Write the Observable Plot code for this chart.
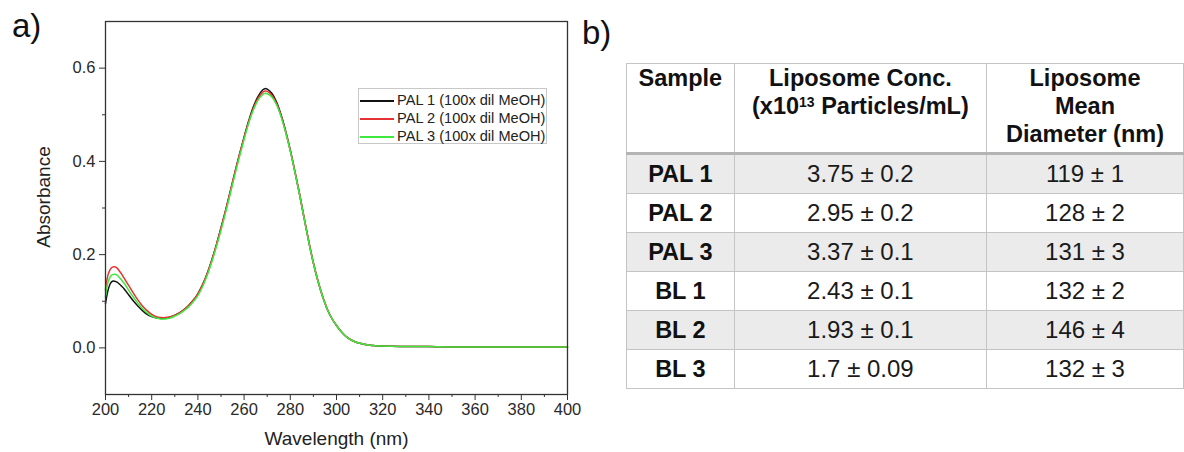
<!DOCTYPE html>
<html>
<head>
<meta charset="utf-8">
<script src="https://cdn.jsdelivr.net/npm/d3@7"></script>
<script src="https://cdn.jsdelivr.net/npm/@observablehq/plot@0.6"></script>
<style>
  html, body { margin: 0; padding: 0; background: #fff; }
  body { width: 1184px; height: 452px; overflow: hidden; position: relative; font-family: "Liberation Sans", Arial, sans-serif; }
  #chart { position: absolute; left: 0; top: 0; }
  #chart svg g[aria-label$="tick label"], #chart svg g[aria-label$="tick label"] text { font-size: 16.5px; }
  .panel { position: absolute; font-size: 33px; line-height: 33px; color: #111; }
  #legend { position: absolute; left: 358px; top: 88px; width: 189px; height: 56px; box-sizing: border-box;
            border: 1px solid #c8c8c8; background: #fff; font-size: 14.6px; color: #222; padding-top: 2px; }
  #legend .row { height: 18px; line-height: 18px; white-space: nowrap; }
  #legend .sw { display: inline-block; width: 34px; height: 0; border-top: 2px solid; vertical-align: middle; margin: 0 3px 0 1px; }
  #tbl { position: absolute; left: 626px; top: 63px; border-collapse: collapse; table-layout: fixed; font-size: 24px; color: #1a1a1a; }
  #tbl th, #tbl td { border: 1.5px solid #c4c4c4; text-align: center; padding: 0; }
  #tbl th { vertical-align: top; font-weight: bold; font-size: 23.5px; line-height: 28px; height: 88px; color: #111; }
  #tbl thead tr { border-bottom: 3px solid #b4b4b4; }
  #tbl td { height: 38px; }
  #tbl td.s { font-weight: bold; font-size: 23.5px; color: #111; }
  #tbl tr.alt td { background: #ebebeb; }
  #tbl sup { font-size: 14px; vertical-align: 7px; line-height: 0; }
</style>
</head>
<body>
<div id="chart"></div>
<div class="panel" style="left:12px; top:9px;">a)</div>
<div class="panel" style="left:582px; top:16px;">b)</div>
<div id="legend"></div>
<table id="tbl"></table>
<script>
// ---------- Panel a) UV-Vis spectra ----------
const seriesNames = ["PAL 1 (100x dil MeOH)", "PAL 2 (100x dil MeOH)", "PAL 3 (100x dil MeOH)"];
const seriesColors = ["#111111", "#e53333", "#3ee83e"];

const wavelength = [200,201,202,203,204,205,206,207,208,210,212,214,216,218,220,222,224,226,228,230,
  232,234,236,238,240,242,244,246,248,250,252,254,256,258,260,262,264,266,268,269,
  270,272,274,276,278,280,282,284,286,288,290,292,294,296,298,300,302,304,306,308,
  310,312,314,316,318,320,330,340,350,360,370,380,390,400];

const pal1 = [0.095,0.122,0.137,0.143,0.143,0.141,0.137,0.132,0.127,0.114,0.101,0.090,0.080,0.072,0.067,0.064,0.063,0.064,0.066,0.070,
  0.075,0.082,0.091,0.102,0.116,0.135,0.159,0.188,0.221,0.257,0.295,0.335,0.376,0.415,0.452,0.487,0.517,0.539,0.553,0.556,
  0.555,0.546,0.528,0.500,0.465,0.424,0.378,0.330,0.278,0.228,0.182,0.143,0.110,0.083,0.063,0.048,0.035,0.025,0.018,0.013,
  0.010,0.008,0.006,0.005,0.004,0.004,0.003,0.003,0.002,0.002,0.002,0.002,0.002,0.002];

const pal2 = [0.125,0.155,0.168,0.173,0.174,0.171,0.165,0.158,0.150,0.134,0.118,0.103,0.090,0.080,0.072,0.067,0.065,0.065,0.067,0.070,
  0.075,0.082,0.091,0.102,0.116,0.135,0.159,0.188,0.221,0.257,0.295,0.335,0.376,0.415,0.451,0.485,0.514,0.535,0.548,0.551,
  0.550,0.542,0.525,0.498,0.463,0.423,0.378,0.330,0.278,0.228,0.182,0.143,0.110,0.083,0.063,0.048,0.035,0.025,0.018,0.013,
  0.010,0.008,0.006,0.005,0.004,0.004,0.003,0.003,0.002,0.002,0.002,0.002,0.002,0.002];

const pal3 = [0.110,0.139,0.152,0.157,0.158,0.156,0.151,0.145,0.139,0.124,0.109,0.096,0.084,0.075,0.068,0.064,0.062,0.062,0.064,0.068,
  0.073,0.080,0.088,0.099,0.112,0.131,0.155,0.184,0.217,0.252,0.290,0.330,0.371,0.410,0.447,0.482,0.510,0.531,0.543,0.546,
  0.545,0.538,0.522,0.496,0.462,0.422,0.377,0.329,0.277,0.227,0.182,0.143,0.110,0.083,0.063,0.048,0.035,0.025,0.018,0.013,
  0.010,0.008,0.006,0.005,0.004,0.004,0.003,0.003,0.002,0.002,0.002,0.002,0.002,0.002];

const xMajor = [200,220,240,260,280,300,320,340,360,380,400];
const xMinor = [210,230,250,270,290,310,330,350,370,390];
const yMajor = [0.0,0.2,0.4,0.6];
const yMinor = [0.1,0.3,0.5];
const xLabel = "Wavelength (nm)";
const yLabel = "Absorbance";

// ---------- Panel b) table ----------
const tableHeaders = ["Sample", "Liposome Conc.<br>(x10<sup>13</sup> Particles/mL)", "Liposome<br>Mean<br>Diameter (nm)"];
const samples = ["PAL 1", "PAL 2", "PAL 3", "BL 1", "BL 2", "BL 3"];
const concValues = ["3.75", "2.95", "3.37", "2.43", "1.93", "1.7"];
const concErrors = ["0.2", "0.2", "0.1", "0.1", "0.1", "0.09"];
const diamValues = ["119", "128", "131", "132", "146", "132"];
const diamErrors = ["1", "2", "3", "2", "4", "3"];

// build long data
const spectra = [];
[pal1, pal2, pal3].forEach((arr, k) => {
  wavelength.forEach((w, i) => spectra.push({wavelength: w, absorbance: arr[i], series: seriesNames[k]}));
});

const chart = Plot.plot({
  width: 580,
  height: 452,
  marginLeft: 105,
  marginRight: 13,
  marginTop: 21,
  marginBottom: 58,
  style: {fontFamily: "'Liberation Sans', Arial, sans-serif", fontSize: "16px", color: "#222", background: "transparent", overflow: "visible"},
  x: {domain: [200, 400]},
  y: {domain: [-0.1, 0.7]},
  color: {domain: seriesNames, range: seriesColors},
  marks: [
    Plot.axisX({ticks: xMajor, tickSize: 6, tickPadding: 3, tickFormat: "d", label: null, stroke: "#333", fill: "#2a2a2a"}),
    Plot.axisX({ticks: xMinor, tickSize: 3, tickFormat: () => "", label: null, stroke: "#333"}),
    Plot.axisY({ticks: yMajor, tickSize: 6, tickPadding: 4, tickFormat: ".1f", label: null, stroke: "#333", fill: "#2a2a2a"}),
    Plot.axisY({ticks: yMinor, tickSize: 3, tickFormat: () => "", label: null, stroke: "#333"}),
    Plot.line(spectra, {x: "wavelength", y: "absorbance", z: "series", stroke: "series", strokeWidth: 1.5, curve: "catmull-rom"}),
    Plot.frame({stroke: "#333", strokeWidth: 1.3}),
    Plot.text([xLabel], {frameAnchor: "bottom", dy: 50, fontSize: 19, fill: "#222"}),
    Plot.text([yLabel], {frameAnchor: "left", textAnchor: "middle", dx: -62, dy: -11, rotate: -90, fontSize: 19, fill: "#222"})
  ]
});
document.getElementById("chart").appendChild(chart);

// legend
const legend = document.getElementById("legend");
seriesNames.forEach((name, i) => {
  const row = document.createElement("div");
  row.className = "row";
  const sw = document.createElement("span");
  sw.className = "sw";
  sw.style.borderTopColor = seriesColors[i];
  row.appendChild(sw);
  row.appendChild(document.createTextNode(name));
  legend.appendChild(row);
});

// table
const tbl = document.getElementById("tbl");
const colgroup = document.createElement("colgroup");
[110, 262, 205].forEach(w => { const c = document.createElement("col"); c.style.width = w + "px"; colgroup.appendChild(c); });
tbl.appendChild(colgroup);
const thead = document.createElement("thead");
const htr = document.createElement("tr");
tableHeaders.forEach(h => { const th = document.createElement("th"); th.innerHTML = h; htr.appendChild(th); });
thead.appendChild(htr);
tbl.appendChild(thead);
const tbody = document.createElement("tbody");
samples.forEach((s, i) => {
  const tr = document.createElement("tr");
  if (i % 2 === 0) tr.className = "alt";
  const cells = [s, concValues[i] + " ± " + concErrors[i], diamValues[i] + " ± " + diamErrors[i]];
  cells.forEach((c, j) => {
    const td = document.createElement("td");
    if (j === 0) td.className = "s";
    td.textContent = c;
    tr.appendChild(td);
  });
  tbody.appendChild(tr);
});
tbl.appendChild(tbody);
</script>
</body>
</html>
